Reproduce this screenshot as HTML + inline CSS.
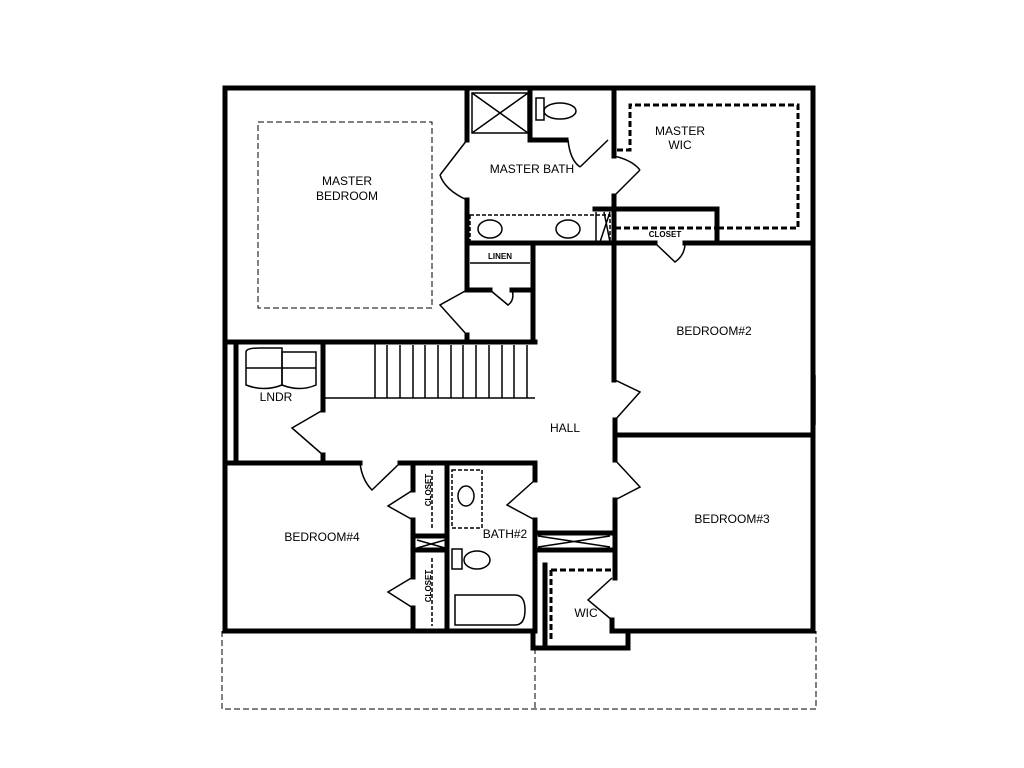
<!DOCTYPE html>
<html><head><style>html,body{margin:0;padding:0;background:#fff}svg{display:block}text{font-family:"Liberation Sans",sans-serif;font-size:12px;fill:#000;text-anchor:middle}</style></head><body>
<svg width="1024" height="768" viewBox="0 0 1024 768">
<rect width="1024" height="768" fill="#fff"/>
<g fill="none" stroke="#000" stroke-width="1" stroke-dasharray="6,3">
<path d="M222 631 V709 H816 V631"/>
<path d="M535 648 V709"/>
<rect x="258" y="122" width="174" height="186"/>
</g>
<g fill="none" stroke="#000" stroke-width="3" stroke-dasharray="6,3">
<path d="M617 150 H630 V105 H798 V228 H715"/>
<path d="M615 228 H715"/>
<path d="M551 570 V640"/>
<path d="M551 570 H612"/>
</g>
<g fill="none" stroke="#000" stroke-width="5" stroke-linecap="square">
<path d="M225 88 H813 V631 H612"/>
<path d="M225 88 V631 H533"/>
<path d="M533 631 V648 H628 V631"/>
<path d="M467 88 V140 M467 200 V290 M467 335 V342"/>
<path d="M530 88 V140 H566"/>
<path d="M614 88 V156 M614 196 V380 M615 420 V460 M615 500 V578 M612 620 V631"/>
<path d="M467 243 H612"/>
<path d="M595 209 H717 V243 H813"/>
<path d="M615 243 H655 M685 243 H717"/>
<path d="M615 435 H813"/>
<path d="M533 243 V340"/>
<path d="M467 290 H490 M512 290 H533"/>
<path d="M228 342 H535"/>
<path d="M323 342 V410 M323 455 V462"/>
<path d="M236 342 V462"/>
<path d="M225 463 H360 M400 463 H535"/>
<path d="M413 463 V490 M413 520 V577 M413 608 V631"/>
<path d="M447 463 V631"/>
<path d="M535 463 V480 M535 520 V631"/>
<path d="M535 533 H612 M535 550 H612"/>
<path d="M545 565 V645"/>
<path d="M447 550 H413 M447 536 H413"/>
</g>
<g fill="none" stroke="#000" stroke-width="1.5">
<rect x="472" y="93" width="56" height="40"/>
<path d="M472 93 L528 133 M528 93 L472 133"/>
<rect x="536" y="98" width="8" height="22"/>
<ellipse cx="560" cy="111" rx="16" ry="8"/>
<rect x="470" y="215" width="140" height="27" stroke-dasharray="4,2"/>
<ellipse cx="490" cy="229" rx="12" ry="9"/>
<ellipse cx="568" cy="229" rx="12" ry="9"/>
<path d="M596 212 V242 M604 212 L610 242 M610 212 L600 242"/>
<path d="M470 263 H530"/>
<path d="M323 398 H535 M375 342 V398"/>
<path d="M387 345 V398 M400 345 V398 M413 345 V398 M425 345 V398 M438 345 V398 M451 345 V398 M463 345 V398 M476 345 V398 M489 345 V398 M502 345 V398 M514 345 V398 M527 345 V398"/>
<path d="M246 352 Q246 348 260 348 H282 V385 Q264 392 246 385 Z"/>
<path d="M282 352 H316 V385 Q300 392 282 385 Z"/>
<path d="M246 368 H316"/>
<path d="M417 540 L445 548 M445 540 L417 548"/>
<path d="M538 536 L610 547 M610 536 L538 547"/>
<path d="M432 470 V528 M432 558 V626" stroke-dasharray="4,2"/>
<rect x="452" y="470" width="30" height="58" stroke-dasharray="4,2"/>
<ellipse cx="466" cy="496" rx="8" ry="10"/>
<rect x="452" y="549" width="10" height="20"/>
<ellipse cx="477" cy="560" rx="13" ry="9"/>
<path d="M455 595 H515 Q525 595 525 610 Q525 625 515 625 H455 Z"/>
<path d="M467 140 L440 175 M467 200 Q445 190 440 175"/>
<path d="M608 140 L580 167 M568 140 Q570 160 580 167"/>
<path d="M614 196 L640 170 M614 156 Q632 160 640 170"/>
<path d="M467 290 L440 305 L467 335"/>
<path d="M490 290 L508 305 Q515 300 512 290"/>
<path d="M655 243 L675 262 Q685 255 685 243"/>
<path d="M615 380 L640 392 L615 420"/>
<path d="M615 460 L640 487 L615 500"/>
<path d="M323 410 L292 428 L323 455"/>
<path d="M360 463 Q362 480 372 490 L400 463"/>
<path d="M413 490 L388 506 L413 520"/>
<path d="M413 577 L388 592 L413 608"/>
<path d="M535 480 L507 505 L535 520"/>
<path d="M612 578 L588 600 L612 620"/>
<path d="M815 375 V425"/>
</g>
<text x="347" y="185">MASTER</text>
<text x="347" y="200">BEDROOM</text>
<text x="532" y="173">MASTER BATH</text>
<text x="680" y="135">MASTER</text>
<text x="680" y="149">WIC</text>
<text x="665" y="237" style="font-size:8px;font-weight:bold">CLOSET</text>
<text x="500" y="259" style="font-size:8px;font-weight:bold">LINEN</text>
<text x="714" y="335">BEDROOM#2</text>
<text x="565" y="432">HALL</text>
<text x="276" y="401">LNDR</text>
<text x="322" y="541">BEDROOM#4</text>
<text x="505" y="538">BATH#2</text>
<text x="732" y="523">BEDROOM#3</text>
<text x="586" y="617">WIC</text>
<text transform="translate(428,490) rotate(-90)" style="font-size:8px;font-weight:bold" y="3">CLOSET</text>
<text transform="translate(428,586) rotate(-90)" style="font-size:8px;font-weight:bold" y="3">CLOSET</text>
</svg>
</body></html>
